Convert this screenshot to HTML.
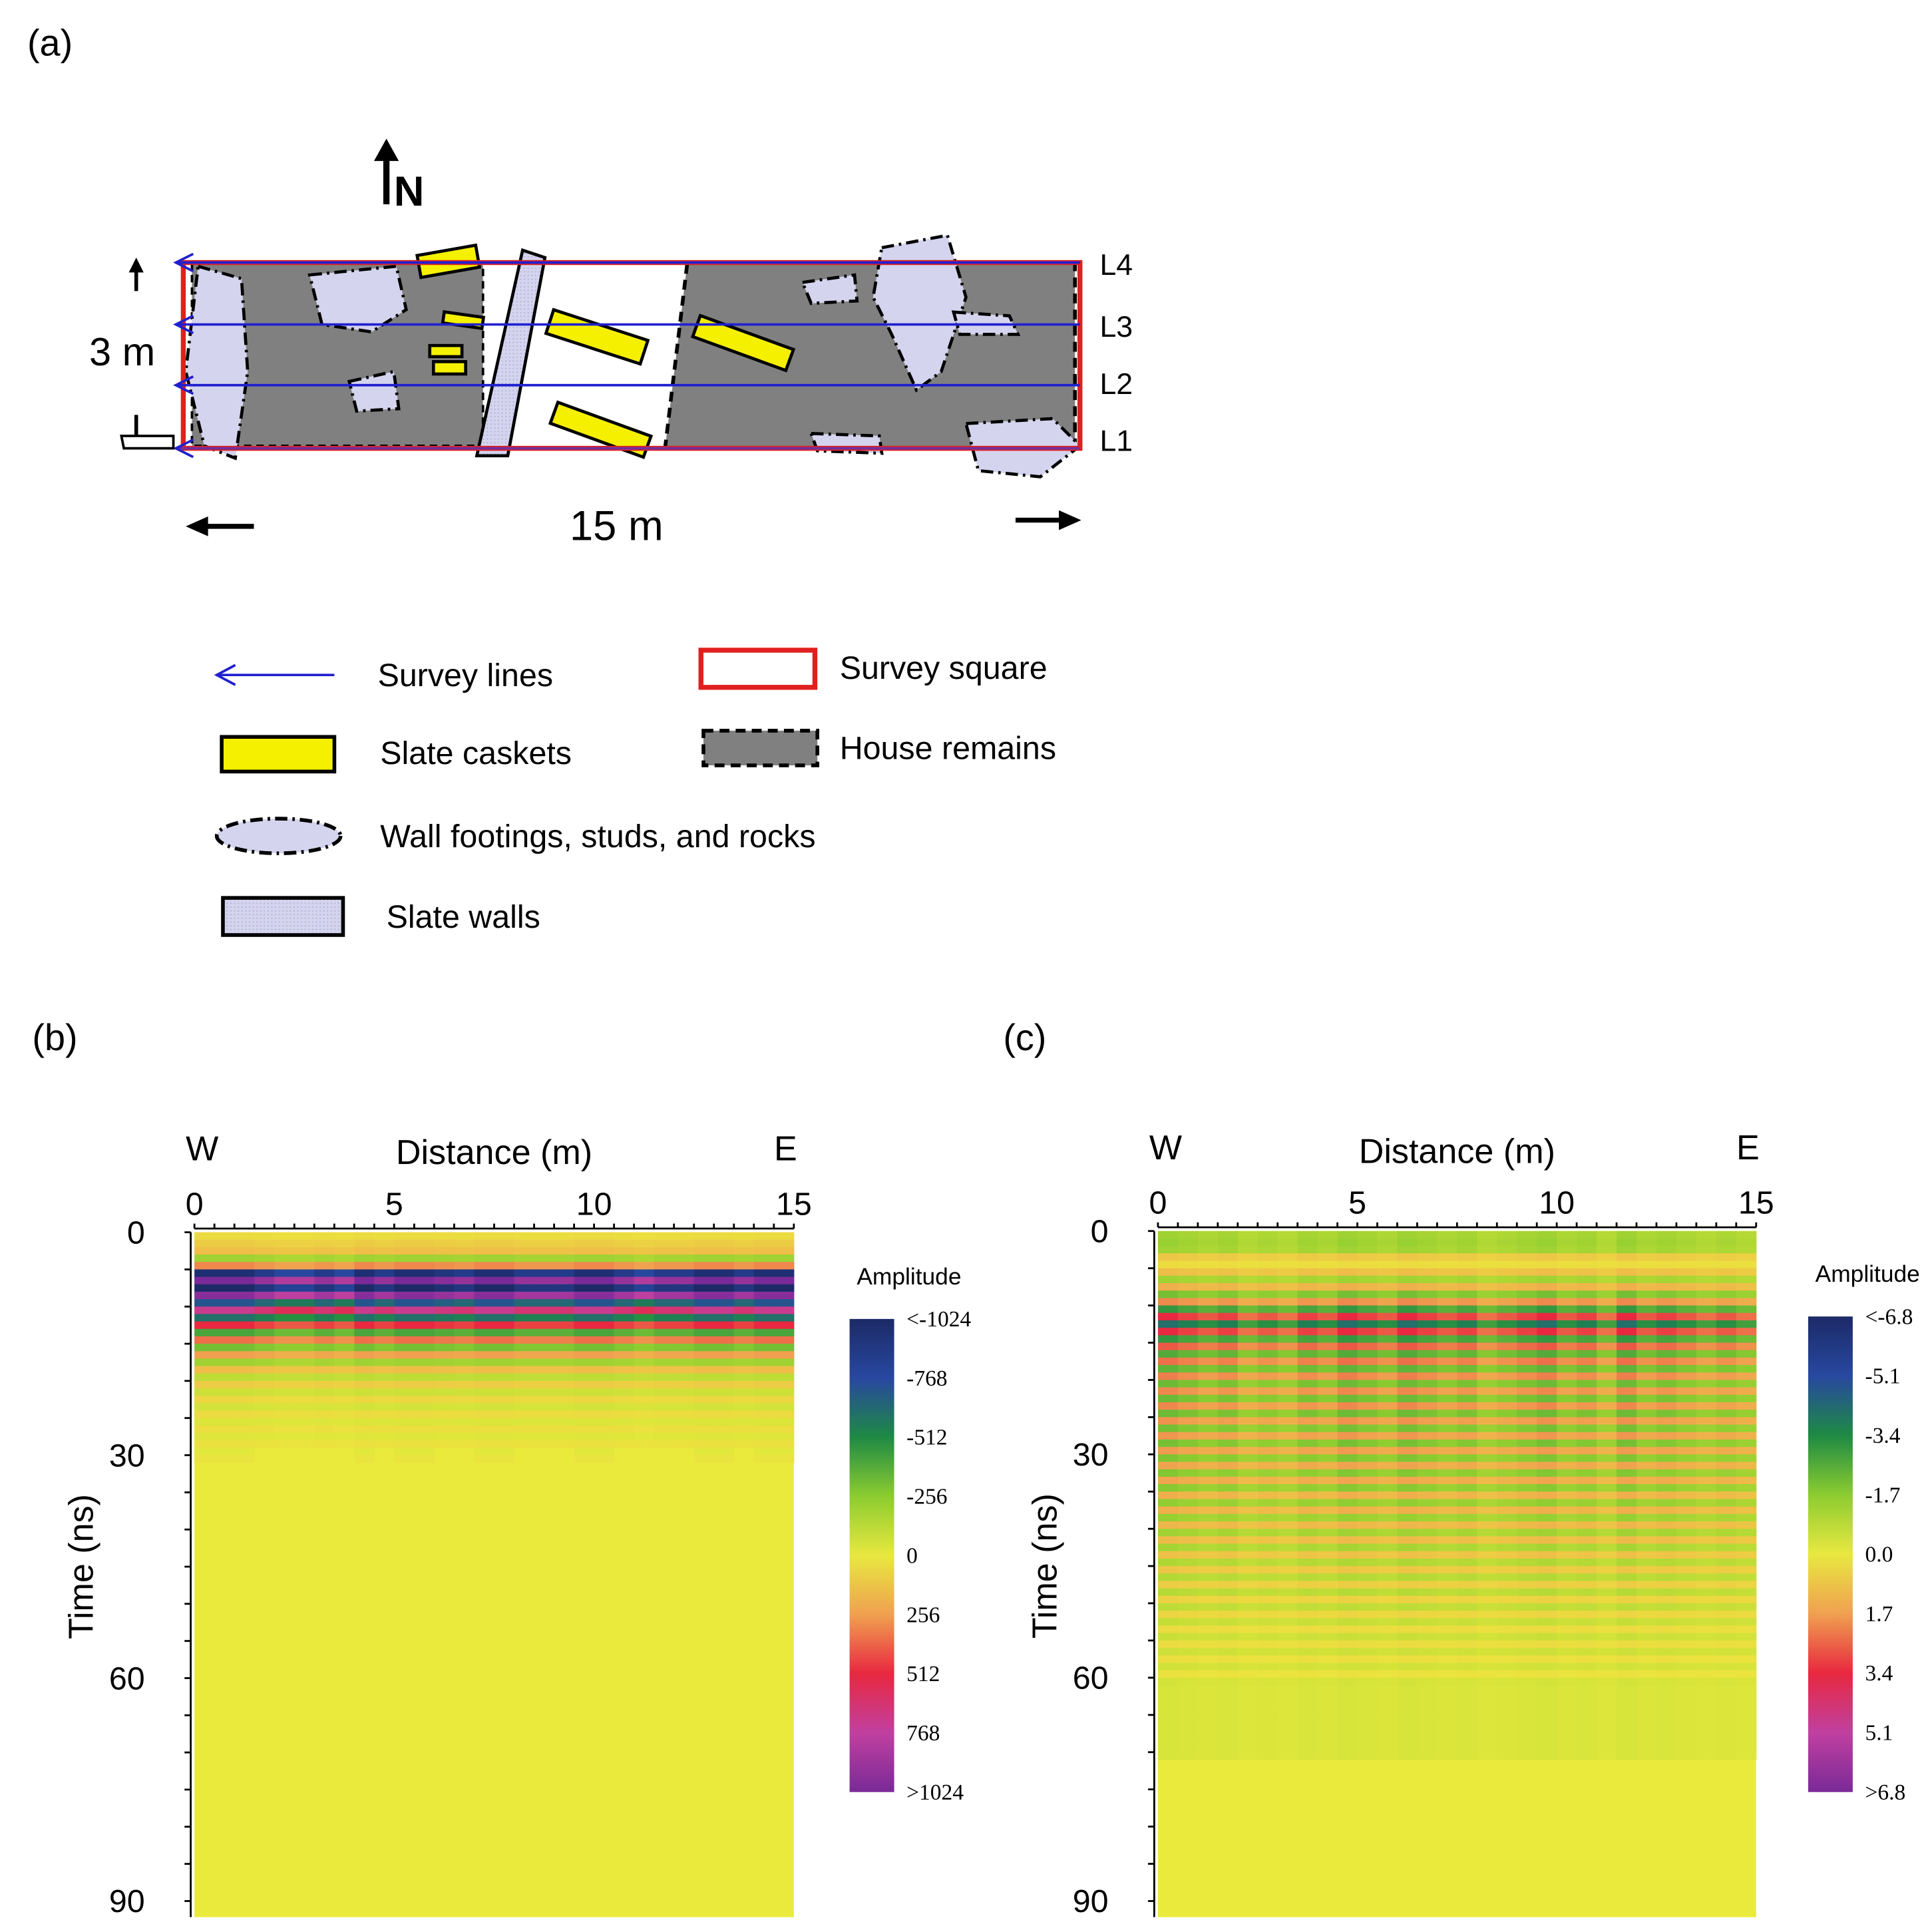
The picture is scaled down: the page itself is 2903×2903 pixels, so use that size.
<!DOCTYPE html>
<html><head><meta charset="utf-8"><style>
html,body{margin:0;padding:0;background:#fff;}
svg{display:block;font-family:"Liberation Sans",Arial,sans-serif;}
.ser{font-family:"Liberation Serif",serif;}
</style></head><body>
<svg id="fig" width="2903" height="2903" viewBox="0 0 1560 1560" xmlns="http://www.w3.org/2000/svg">
<defs>
<pattern id="dots" width="3" height="3" patternUnits="userSpaceOnUse"><rect width="3" height="3" fill="#d4d4ee"/><rect width="1" height="1" fill="#b0b0d8"/></pattern>
<linearGradient id="cbar" x1="0" y1="0" x2="0" y2="1">
<stop offset="0" stop-color="#1c2a66"/><stop offset="0.125" stop-color="#2848a0"/><stop offset="0.25" stop-color="#1e8a44"/><stop offset="0.375" stop-color="#8ccc30"/><stop offset="0.5" stop-color="#e8e840"/><stop offset="0.625" stop-color="#f0a050"/><stop offset="0.75" stop-color="#e82840"/><stop offset="0.875" stop-color="#c040a0"/><stop offset="1" stop-color="#7a2a98"/>
</linearGradient>
</defs>

<g>
<text x="22" y="45" font-size="30">(a)</text>
<g>
<line x1="312" y1="165" x2="312" y2="125" stroke="#000" stroke-width="5"/>
<polygon points="302,130 312,112 322,130" fill="#000"/>
<text x="318" y="166" font-size="34" font-weight="bold">N</text>
</g>
<g>
<polygon points="155,212 390,212 390,360 155,360" fill="#808080" stroke="#000" stroke-width="2" stroke-dasharray="6,4"/>
<polygon points="555,212 868,212 868,362 537,362" fill="#808080" stroke="#000" stroke-width="3" stroke-dasharray="8,5"/>
</g>
<g fill="#d4d4ee" stroke="#000" stroke-width="2.5" stroke-dasharray="10,4,2,4">
<path d="M250,222 L320,215 L328,250 L300,268 L260,262 Z"/>
<path d="M282,308 L318,300 L322,330 L288,332 Z"/>
<path d="M160,215 L195,225 L200,300 L190,370 L165,360 L150,300 Z"/>
<path d="M648,228 L690,222 L692,243 L655,245 Z"/>
<path d="M712,200 L765,190 L780,240 L760,300 L740,315 L720,270 L705,240 Z"/>
<path d="M770,252 L815,255 L822,270 L775,270 Z"/>
<path d="M780,342 L850,338 L872,360 L840,385 L790,380 Z"/>
<path d="M655,350 L710,352 L712,366 L660,364 Z"/>
</g>
<g>
<polygon points="422,202 440,208 410,368 385,368" fill="url(#dots)" stroke="#000" stroke-width="2.5"/>
</g>
<g fill="#f4f000" stroke="#000" stroke-width="2.5">
<rect x="338" y="202" width="48" height="18" transform="rotate(-10 362 211)"/>
<rect x="358" y="254" width="32" height="9" transform="rotate(8 374 258)"/>
<rect x="347" y="279" width="26" height="9"/>
<rect x="350" y="292" width="26" height="10"/>
<rect x="442" y="262" width="80" height="20" transform="rotate(18 482 272)"/>
<rect x="560" y="268" width="80" height="18" transform="rotate(20 600 277)"/>
<rect x="445" y="338" width="80" height="18" transform="rotate(20 485 347)"/>
</g>
<rect x="148" y="212" width="724" height="150" fill="none" stroke="#e02020" stroke-width="4"/>
<g stroke="#2020d0" stroke-width="2" fill="none">
<line x1="872" y1="212" x2="142" y2="212"/><polyline points="156,205 142,212 156,219"/>
<line x1="872" y1="262" x2="142" y2="262"/><polyline points="156,255 142,262 156,269"/>
<line x1="872" y1="311" x2="142" y2="311"/><polyline points="156,304 142,311 156,318"/>
<line x1="872" y1="362" x2="142" y2="362" stroke="#7030a0"/><polyline points="156,355 142,362 156,369"/>
</g>
<g font-size="24">
<text x="888" y="222">L4</text><text x="888" y="272">L3</text><text x="888" y="318">L2</text><text x="888" y="364">L1</text>
</g>
<g>
<line x1="110" y1="235" x2="110" y2="218" stroke="#000" stroke-width="3"/><polygon points="104,220 110,208 116,220"/>
<text x="72" y="295" font-size="32">3 m</text>
<line x1="110" y1="335" x2="110" y2="355" stroke="#000" stroke-width="3"/>
<polygon points="98,352 140,352 140,362 100,362" fill="#fff" stroke="#000" stroke-width="2"/>
</g>
<g>
<line x1="205" y1="425" x2="165" y2="425" stroke="#000" stroke-width="4"/><polygon points="168,417 150,425 168,433"/>
<text x="460" y="436" font-size="34">15 m</text>
<line x1="820" y1="420" x2="858" y2="420" stroke="#000" stroke-width="4"/><polygon points="855,412 873,420 855,428"/>
</g>
</g>

<g font-size="26">
<g><line x1="175" y1="545" x2="270" y2="545" stroke="#2020d0" stroke-width="2"/><polyline points="190,537 175,545 190,553" fill="none" stroke="#2020d0" stroke-width="2"/><text x="305" y="554">Survey lines</text></g>
<g><rect x="566" y="525" width="92" height="30" fill="none" stroke="#e02020" stroke-width="4"/><text x="678" y="548">Survey square</text></g>
<g><rect x="179" y="595" width="91" height="28" fill="#f4f000" stroke="#000" stroke-width="3"/><text x="307" y="617">Slate caskets</text></g>
<g><rect x="568" y="590" width="92" height="28" fill="#808080" stroke="#000" stroke-width="3" stroke-dasharray="8,5"/><text x="678" y="613">House remains</text></g>
<g><ellipse cx="225" cy="675" rx="50" ry="14" fill="#d4d4ee" stroke="#000" stroke-width="3" stroke-dasharray="10,4,2,4"/><text x="307" y="684">Wall footings, studs, and rocks</text></g>
<g><rect x="180" y="725" width="97" height="30" fill="url(#dots)" stroke="#000" stroke-width="3"/><text x="312" y="749">Slate walls</text></g>
</g>

<text x="26" y="848" font-size="30">(b)</text>
<text x="810" y="848" font-size="30">(c)</text>
<g id="panelB"></g>
<g id="panelC"></g>
</svg>
<script>
const timeBinsB = [0,1,2,3,4,5,6,7,8,9,10,11,12,13,14,15,16,17,18,19,20,21,22,23,24,25,26,27,28,29,30];
const bandB = [0.05,0.1,0.15,-0.2,0.3,-0.95,1,-1,0.95,-0.7,0.7,-0.6,0.5,-0.4,0.35,-0.3,0.25,-0.2,0.15,-0.12,0.1,-0.08,0.06,-0.06,0.05,-0.04,0.04,-0.03,0.03,-0.02,0.02];
const timeBinsC = [0,1,2,3,4,5,6,7,8,9,10,11,12,13,14,15,16,17,18,19,20,21,22,23,24,25,26,27,28,29,30,31,32,33,34,35,36,37,38,39,40,41,42,43,44,45,46,47,48,49,50,51,52,53,54,55,56,57,58,59,60,61,62,63,64,65,66,67,68,69,70];
const bandC = [-0.2,-0.22,-0.2,0.12,0.05,0.15,-0.2,0.2,-0.3,0.3,-0.45,0.5,-0.6,0.5,-0.45,0.4,-0.38,0.35,-0.35,0.32,-0.32,0.3,-0.32,0.3,-0.32,0.28,-0.3,0.27,-0.3,0.26,-0.28,0.24,-0.27,0.23,-0.26,0.2,-0.24,0.2,-0.22,0.18,-0.2,0.16,-0.18,0.14,-0.16,0.12,-0.15,0.1,-0.14,0.08,-0.12,0.07,-0.1,0.05,-0.09,0.05,-0.08,0.04,-0.07,0.03,-0.06,-0.05,-0.05,-0.05,-0.05,-0.05,-0.05,-0.05,-0.05,-0.05,-0.05];
const colStrengthB = [1,1,1,0.9,0.8,0.8,0.9,0.8,1,0.9,1,1,0.95,0.9,1,1,0.9,0.9,0.9,1,1,0.9,0.8,0.9,0.9,1,1,0.9,1,1];
const colStrengthC = [1,0.9,0.8,0.9,0.7,0.8,0.7,0.9,0.8,1,0.9,0.8,1,0.9,0.8,0.9,0.7,0.8,0.9,1,0.8,0.9,0.7,1,0.8,0.9,0.8,0.7,0.8,0.7];
const xTicks = [0,5,10,15];
const yTicks = [0,30,60,90];
const cbarLabelsB = ["<-1024","-768","-512","-256","0","256","512","768",">1024"];
const cbarLabelsC = ["<-6.8","-5.1","-3.4","-1.7","0.0","1.7","3.4","5.1",">6.8"];

const NS="http://www.w3.org/2000/svg";
function mk(parent,tag,attrs,txt){const e=document.createElementNS(NS,tag);for(const k in attrs)e.setAttribute(k,attrs[k]);if(txt!==undefined)e.textContent=txt;parent.appendChild(e);return e;}
const stops=[[-1,[28,42,102]],[-0.75,[40,72,160]],[-0.5,[30,138,68]],[-0.25,[140,204,48]],[0,[234,234,60]],[0.25,[240,160,80]],[0.5,[232,40,64]],[0.75,[192,64,160]],[1,[122,42,152]]];
function color(v){v=Math.max(-1,Math.min(1,v));for(let i=0;i<stops.length-1;i++){const a=stops[i],b=stops[i+1];if(v<=b[0]){const t=(v-a[0])/(b[0]-a[0]);const c=a[1].map((x,j)=>Math.round(x+(b[1][j]-x)*t));return `rgb(${c})`;}}return "rgb(122,42,152)";}

function panel(g,x0,x1,y0,y90,yBot,times,band,cols,cb,labels){
  const xs=d=>x0+(x1-x0)*d/15, ys=t=>y0+(y90-y0)*t/90;
  const plot=mk(g,'g',{});
  
  
  const bg=mk(plot,'rect',{x:x0,y:y0,width:x1-x0,height:yBot-y0,fill:'#eaea3c'});
  
  
  const cw=15/cols.length;
  times.forEach((t,i)=>{cols.forEach((s,j)=>{
    const v=band[i]*s; if(Math.abs(v)<0.02)return;
    const r=mk(plot,'rect',{x:xs(j*cw),y:ys(t),width:xs((j+1)*cw)-xs(j*cw)+0.3,height:ys(t+1)-ys(t)+0.3,fill:color(v)});
    
    
  });});
  const ax=mk(g,'g',{stroke:'#000','stroke-width':1.5});
  
  
  mk(ax,'line',{x1:x0,y1:y0-3,x2:x1,y2:y0-3});
  mk(ax,'line',{x1:x0-3,y1:y0,x2:x0-3,y2:yBot});
  for(let d=0;d<=15;d+=0.5)mk(ax,'line',{x1:xs(d),y1:y0-3,x2:xs(d),y2:y0-7});
  for(let t=0;t<=90;t+=5)mk(ax,'line',{x1:x0-3,y1:ys(t),x2:x0-8,y2:ys(t)});
  xTicks.forEach(d=>{const e=mk(g,'text',{x:xs(d),y:y0-14,'font-size':26,'text-anchor':'middle'},String(d));
    });
  yTicks.forEach(t=>{const e=mk(g,'text',{x:x0-40,y:ys(t)+9,'font-size':26,'text-anchor':'end'},String(t));
    });
  let e=mk(g,'text',{x:(x0+x1)/2,y:y0-55,'font-size':28,'text-anchor':'middle'},'Distance (m)');
  
  e=mk(g,'text',{x:x0-7,y:y0-58,'font-size':28},'W');
  
  e=mk(g,'text',{x:x1-16,y:y0-58,'font-size':28},'E');
  
  e=mk(g,'text',{x:0,y:0,'font-size':28,'text-anchor':'middle',transform:`translate(${x0-82},${ys(45)}) rotate(-90)`},'Time (ns)');
  
  const cbx=cb[0],cby0=cb[1],cby1=cb[2];
  e=mk(g,'rect',{x:cbx,y:cby0,width:36,height:cby1-cby0,fill:'url(#cbar)'});
  
  e=mk(g,'text',{x:cbx+48,y:cby0-28,'font-size':19,'text-anchor':'middle'},'Amplitude');
  
  labels.forEach((l,i)=>{const y=cby0+(cby1-cby0)*i/(labels.length-1)+6;
    const t=mk(g,'text',{x:cbx+46,y:y,'font-size':18,class:'ser'},l);
    });
}
panel(document.getElementById('panelB'),157,641,995,1535,1548,timeBinsB,bandB,colStrengthB,[686,1065,1447],cbarLabelsB);
panel(document.getElementById('panelC'),935,1418,994,1535,1548,timeBinsC,bandC,colStrengthC,[1460,1063,1447],cbarLabelsC);
</script>
</body></html>
